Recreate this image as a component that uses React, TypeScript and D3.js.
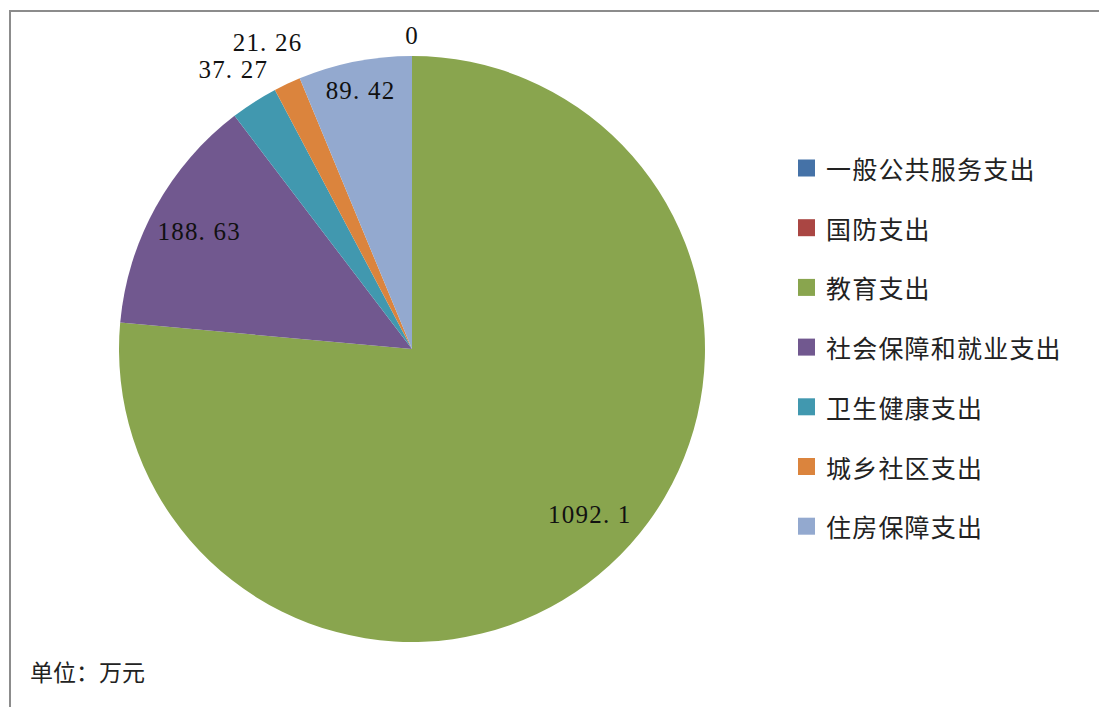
import React from "react";
import * as d3 from "d3";

// spending categories and values (万元)
const categories = [
  "一般公共服务支出",
  "国防支出",
  "教育支出",
  "社会保障和就业支出",
  "卫生健康支出",
  "城乡社区支出",
  "住房保障支出",
];
const values = [0, 0, 1092.1, 188.63, 37.27, 21.26, 89.42];
const colors = ["#4572A7", "#AA4643", "#89A54E", "#71588F", "#4198AF", "#DB843D", "#93A9CF"];
const unitLabel = "单位：万元";

const W = 1099;
const H = 707;

export default function App() {
  const cx = 412;
  const cy = 349;
  const r = 293;

  const data = categories.map((c, i) => ({ name: c, value: values[i], color: colors[i] }));
  const pie = d3.pie<any>().sort(null).value((d) => d.value);
  const arcs = pie(data);
  const arc = d3.arc<any>().innerRadius(0).outerRadius(r);

  // label placement: big slices inside, thin ones outside
  const labelPos = (a: any) => {
    let mid = (a.startAngle + a.endAngle) / 2;
    const span = a.endAngle - a.startAngle;
    let lr;
    if (span === 0) lr = r * 1.07;
    else if (span < 0.2) lr = r * (1.12 + (0.2 - span) * 0.35);
    else if (span < 0.5) lr = r * 0.9;
    else {
      lr = r * 0.83;
      if (span > Math.PI) mid -= 0.08;
    }
    return [Math.sin(mid) * lr, -Math.cos(mid) * lr];
  };

  // only one zero label is shown (overlapping zeros)
  const shown = arcs.filter((a, i) => !(a.data.value === 0 && i > 0 && arcs[i - 1].data.value === 0));

  const legendX = 798;
  const legendY = 168;
  const legendStep = 59.7;

  return (
    <svg width={W} height={H} style={{ position: "absolute", left: 0, top: 0 }}>
      <rect x={0} y={0} width={W} height={H} fill="#fff" />
      <rect x={10} y={11} width={W + 20} height={H + 20} fill="none" stroke="#8c8c8c" strokeWidth={2} />
      <g transform={`translate(${cx},${cy})`}>
        {arcs.map((a, i) => (
          <path key={i} d={arc(a) || ""} fill={a.data.color} />
        ))}
        {shown.map((a, i) => {
          const [x, y] = labelPos(a);
          return (
            <text
              key={i}
              x={x}
              y={y}
              textAnchor="middle"
              dominantBaseline="central"
              fontFamily="'Liberation Serif', 'DejaVu Serif', serif"
              fontSize={25}
              letterSpacing={1.2}
              fill="#111"
            >
              {d3.format("")(a.data.value).replace(".", ". ")}
            </text>
          );
        })}
      </g>
      <g>
        {data.map((d, i) => (
          <g key={i} transform={`translate(${legendX},${legendY + i * legendStep})`}>
            <rect x={0} y={-8.5} width={17} height={17} fill={d.color} />
            <text
              x={28}
              y={0}
              dominantBaseline="central"
              fontFamily="'Noto Sans CJK SC', sans-serif"
              fontSize={25}
              letterSpacing={1.2}
              fill="#222"
            >
              {d.name}
            </text>
          </g>
        ))}
      </g>
      <text x={30} y={681} fontFamily="'Noto Sans CJK SC', sans-serif" fontSize={23} fill="#222">
        {unitLabel}
      </text>
    </svg>
  );
}
